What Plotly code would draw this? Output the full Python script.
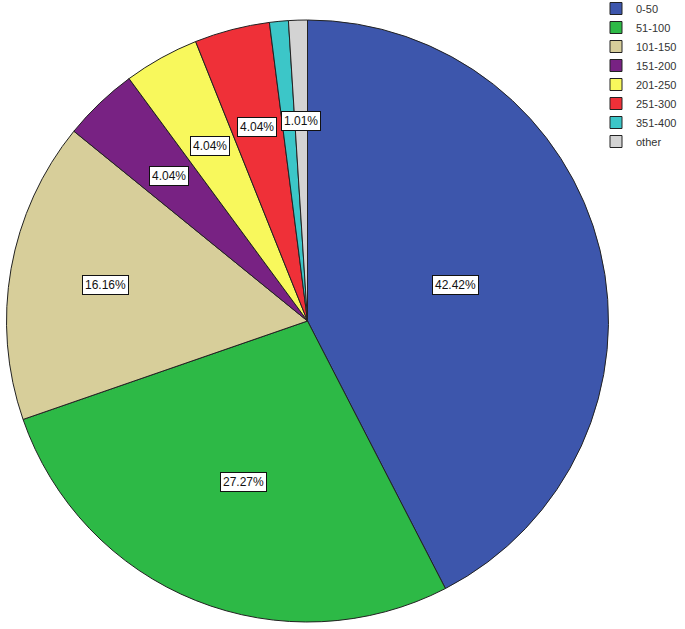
import math
import plotly.graph_objects as go

categories = ["0-50", "51-100", "101-150", "151-200", "201-250", "251-300", "351-400", "other"]
counts = [42, 27, 16, 4, 4, 4, 1, 1]
colors = ["#3D56AC", "#2DB946", "#D7CE9A", "#782283", "#F8F85C", "#EF3038", "#3CC6C8", "#D3D3D3"]
label_radius = [0.505, 0.575, 0.68, 0.665, 0.665, 0.665, 0.665, 0.665]
show_label = [True, True, True, True, True, True, False, True]

W, H = 685, 629
cx, cy, R = 307.5, 321, 301

fig = go.Figure(go.Pie(
    labels=categories, values=counts, sort=False, direction="clockwise", rotation=0,
    marker=dict(colors=colors, line=dict(color="#222222", width=1)),
    textinfo="none", hoverinfo="label+percent",
    domain=dict(x=[(cx - R) / W, (cx + R) / W], y=[1 - (cy + R) / H, 1 - (cy - R) / H]),
))

total = sum(counts)
cum = 0
pos = {}
for i, v in enumerate(counts):
    mid = (cum + v / 2) / total * 2 * math.pi
    cum += v
    r = label_radius[i] * R
    pos[i] = (cx + r * math.sin(mid), cy - r * math.cos(mid))

anns = []
for i in [0, 1, 2, 3, 4, 7, 6, 5]:
    if not show_label[i]:
        continue
    px, py = pos[i]
    pct = counts[i] / total * 100
    anns.append(dict(x=px / W, y=1 - py / H, xref="paper", yref="paper", showarrow=False,
                     xanchor="center", yanchor="middle",
                     text=f"{pct:.2f}%", font=dict(family="Arial", size=12, color="#111111"),
                     bgcolor="white", bordercolor="#111111", borderwidth=1, borderpad=2))

fig.update_layout(
    width=W, height=H, margin=dict(l=0, r=0, t=0, b=0, autoexpand=False),
    paper_bgcolor="white", plot_bgcolor="white",
    annotations=anns,
    legend=dict(x=596 / W, y=1 + 6 / H, xanchor="left", yanchor="top",
                font=dict(family="Arial", size=11, color="#333333"),
                bgcolor="rgba(0,0,0,0)", itemwidth=30, tracegroupgap=0),
)
fig.write_html("out.html", config={"displayModeBar": False},
               post_script="document.body.style.margin='0';")
